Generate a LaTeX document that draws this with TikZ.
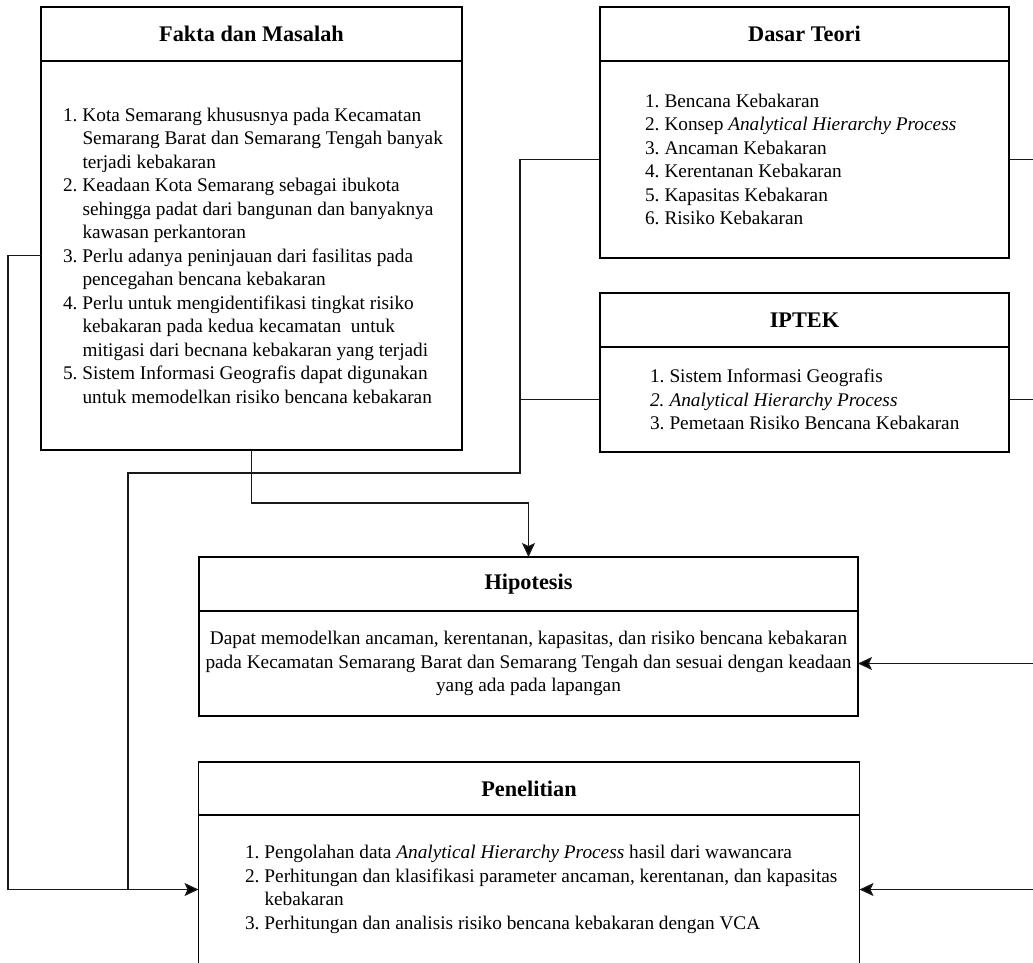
\documentclass[tikz,border=0pt]{standalone}
\usepackage{fontspec}
\setmainfont{Liberation Serif}
\usetikzlibrary{arrows.meta}
\begin{document}
\begin{tikzpicture}[x=1pt,y=-1pt,
  hdr/.style={draw, line width=1.3pt, rectangle, inner sep=0pt, outer sep=0pt, font=\fontsize{22.3}{26}\selectfont\bfseries},
  bdy/.style={draw, line width=1.3pt, rectangle, inner sep=0pt, outer sep=0pt},
  txt/.style={inner sep=0pt, outer sep=0pt, align=left, font=\fontsize{19.3}{23.5}\selectfont, anchor=west},
  ctxt/.style={inner sep=0pt, outer sep=0pt, align=center, font=\fontsize{19.3}{23.5}\selectfont},
  conn/.style={line width=1.4pt, draw=black!90},
  arr/.style={conn, -{Stealth[length=14pt,width=13pt,inset=3pt,fill=black]}}]
\useasboundingbox (0,0) rectangle (1033,962);
\newcommand{\nm}[1]{\makebox[19.5pt][l]{#1}}
\newcommand{\ind}{\hspace*{19.5pt}}

% Fakta dan Masalah
\node[hdr, minimum width=421pt, minimum height=54pt] (faktaH) at (251.5,34) {Fakta dan Masalah};
\node[bdy, minimum width=421pt, minimum height=389pt] (fakta) at (251.5,255.5) {};
\node[txt] (faktaT) at (63,255.5) {\nm{1.}Kota Semarang khususnya pada Kecamatan\\
\ind Semarang Barat dan Semarang Tengah banyak\\
\ind terjadi kebakaran\\
\nm{2.}Keadaan Kota Semarang sebagai ibukota\\
\ind sehingga padat dari bangunan dan banyaknya\\
\ind kawasan perkantoran\\
\nm{3.}Perlu adanya peninjauan dari fasilitas pada\\
\ind pencegahan bencana kebakaran\\
\nm{4.}Perlu untuk mengidentifikasi tingkat risiko\\
\ind kebakaran pada kedua kecamatan \ untuk\\
\ind mitigasi dari becnana kebakaran yang terjadi\\
\nm{5.}Sistem Informasi Geografis dapat digunakan\\
\ind untuk memodelkan risiko bencana kebakaran};

% Dasar Teori
\node[hdr, minimum width=409pt, minimum height=54pt] (dasarH) at (804.5,34) {Dasar Teori};
\node[bdy, minimum width=409pt, minimum height=197pt] (dasar) at (804.5,159.5) {};
\node[txt] (dasarT) at (645,159.5) {\nm{1.}Bencana Kebakaran\\
\nm{2.}Konsep \textit{Analytical Hierarchy Process}\\
\nm{3.}Ancaman Kebakaran\\
\nm{4.}Kerentanan Kebakaran\\
\nm{5.}Kapasitas Kebakaran\\
\nm{6.}Risiko Kebakaran};

% IPTEK
\node[hdr, minimum width=409pt, minimum height=54pt] (iptekH) at (804.5,320) {IPTEK};
\node[bdy, minimum width=409pt, minimum height=105pt] (iptek) at (804.5,399.5) {};
\node[txt] (iptekT) at (650,399.5) {\nm{1.}Sistem Informasi Geografis\\
\textit{\nm{2.}Analytical Hierarchy Process}\\
\nm{3.}Pemetaan Risiko Bencana Kebakaran};

% Hipotesis
\node[hdr, minimum width=659pt, minimum height=54pt] (hipH) at (528.5,584) {Hipotesis};
\node[bdy, minimum width=659pt, minimum height=105pt] (hip) at (528.5,663.5) {};
\node[ctxt] (hipT) at (hip.center) {Dapat memodelkan ancaman, kerentanan, kapasitas, dan risiko bencana kebakaran\\
pada Kecamatan Semarang Barat dan Semarang Tengah dan sesuai dengan keadaan\\
yang ada pada lapangan};

% Penelitian
\node[hdr, minimum width=661pt, minimum height=53pt] (penH) at (529,788.5) {Penelitian};
\node[bdy, minimum width=661pt, minimum height=149pt] (pen) at (529,889.5) {};
\node[txt] (penT) at (245,889.5) {\nm{1.}Pengolahan data \textit{Analytical Hierarchy Process} hasil dari wawancara\\
\nm{2.}Perhitungan dan klasifikasi parameter ancaman, kerentanan, dan kapasitas\\
\ind kebakaran\\
\nm{3.}Perhitungan dan analisis risiko bencana kebakaran dengan VCA};

% connectors
\coordinate (bus) at (520,473);
\coordinate (jb) at (128,889.5);
\coordinate (rh) at (1045,663.5);
\coordinate (rp) at (1045,889.5);
\draw[arr] (fakta.west) -- ++(-33,0) |- (pen.west);
\draw[conn] (dasar.west) -| (bus) -| (jb);
\draw[conn] (iptek.west) -- (iptek.west -| bus);
\draw[arr] (fakta.south) -- ++(0,53) -| (hipH.north);
\draw[conn] (dasar.east) -- ++(40,0);
\draw[conn] (iptek.east) -- ++(40,0);
\draw[arr] (rh) -- (hip.east);
\draw[arr] (rp) -- (pen.east);
\end{tikzpicture}
\end{document}
